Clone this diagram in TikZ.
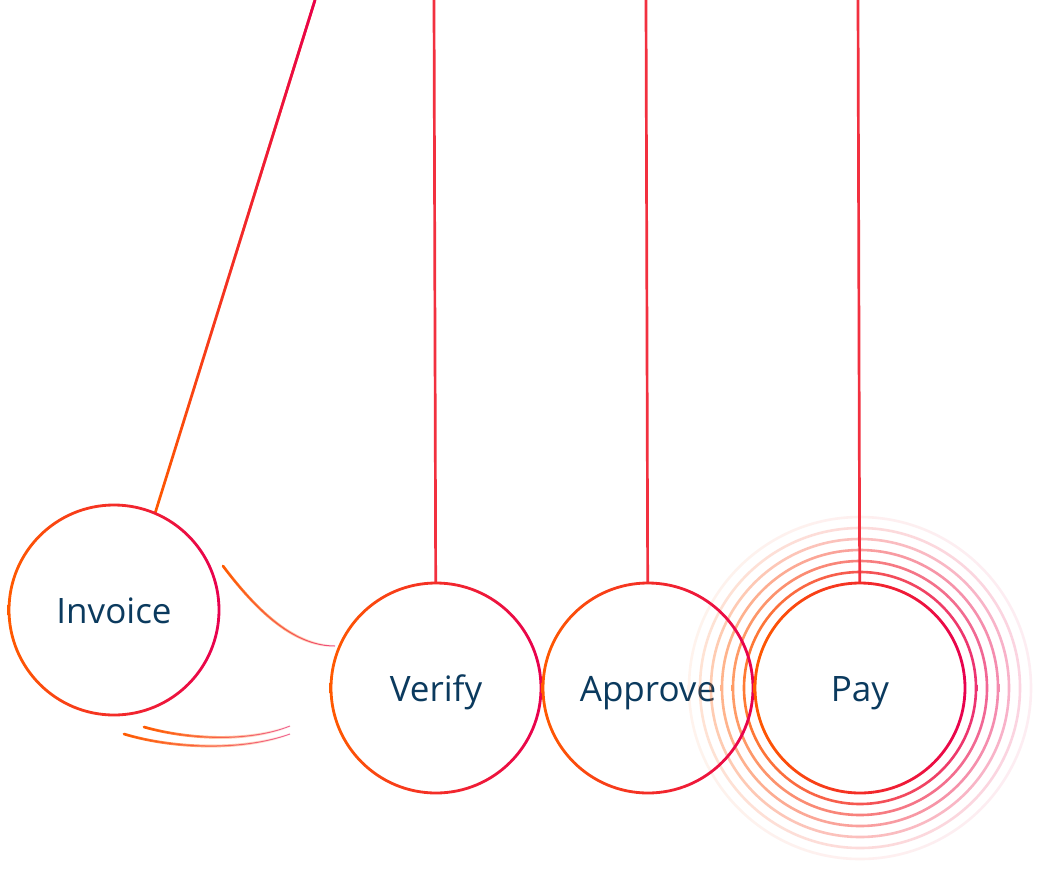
\documentclass[tikz,border=0pt]{standalone}
\usepackage{fontspec}
\setmainfont{Open Sans}
\usetikzlibrary{fadings}
\definecolor{cradleorange}{HTML}{FF5A00}
\definecolor{cradlepink}{HTML}{E8004F}
\definecolor{ropered}{HTML}{F2303F}
\definecolor{labelblue}{HTML}{0B3A5E}
\begin{document}
\begin{tikzpicture}[x=1pt, y=-1pt,
  ball/.style={circle, minimum size=210pt, inner sep=0pt, text height=26pt, text depth=0pt, text=labelblue, font=\fontsize{35}{42}\selectfont},
  rope/.style={line width=2.7pt, ropered},
  ringshade/.style={left color=cradleorange, right color=cradlepink, even odd rule},
  swing/.style={line width=2.7pt, line cap=round}]
\fill[white] (0,0) rectangle (1044,868);
\useasboundingbox (0,0) rectangle (1044,868);
\node[ball] (invoice) at (114,610) {Invoice};
\node[ball] (verify) at (436,688) {Verify};
\node[ball] (approve) at (648,688) {Approve};
\node[ball] (pay) at (860,688) {Pay};
\coordinate (invoicetop) at (315,0);
\coordinate (verifytop) at (434,0);
\coordinate (approvetop) at (646,0);
\coordinate (paytop) at (858,0);
% ripples round the last ball
\foreach \r/\o in {116/0.8, 127/0.6, 138/0.45, 149/0.3, 160/0.17, 171/0.07}
  \shade[ringshade, opacity=\o] (pay.center) circle[radius=\r pt+1.3pt] (pay.center) circle[radius=\r pt-1.3pt];
% strings
\draw[line width=2.7pt, cradleorange] (invoicetop) -- (invoice.67);
\draw[line width=2.7pt, cradlepink, path fading=south] (invoicetop) -- (invoice.67);
\draw[rope] (verifytop) -- (verify);
\draw[rope] (approvetop) -- (approve);
\draw[rope] (paytop) -- (pay);
% balls
\foreach \b in {invoice, verify, approve, pay}
  \shade[ringshade] (\b.center) circle[radius=106.4pt] (\b.center) circle[radius=103.6pt];
% motion lines
\draw[line width=1pt, cradlepink!70] (223,566) .. controls (262,618) and (298,646) .. (335,646);
\draw[swing, cradleorange, path fading=east] (223,566) .. controls (262,618) and (298,646) .. (335,646);
\draw[line width=1pt, cradlepink!60] (124,734) .. controls (170,748) and (240,752) .. (290,734);
\draw[swing, cradleorange, path fading=east] (124,734) .. controls (170,748) and (240,752) .. (290,734);
\draw[line width=1pt, cradlepink!60] (144,727) .. controls (190,740) and (250,742) .. (290,726);
\draw[swing, cradleorange, path fading=east] (144,727) .. controls (190,740) and (250,742) .. (290,726);
\end{tikzpicture}
\end{document}
